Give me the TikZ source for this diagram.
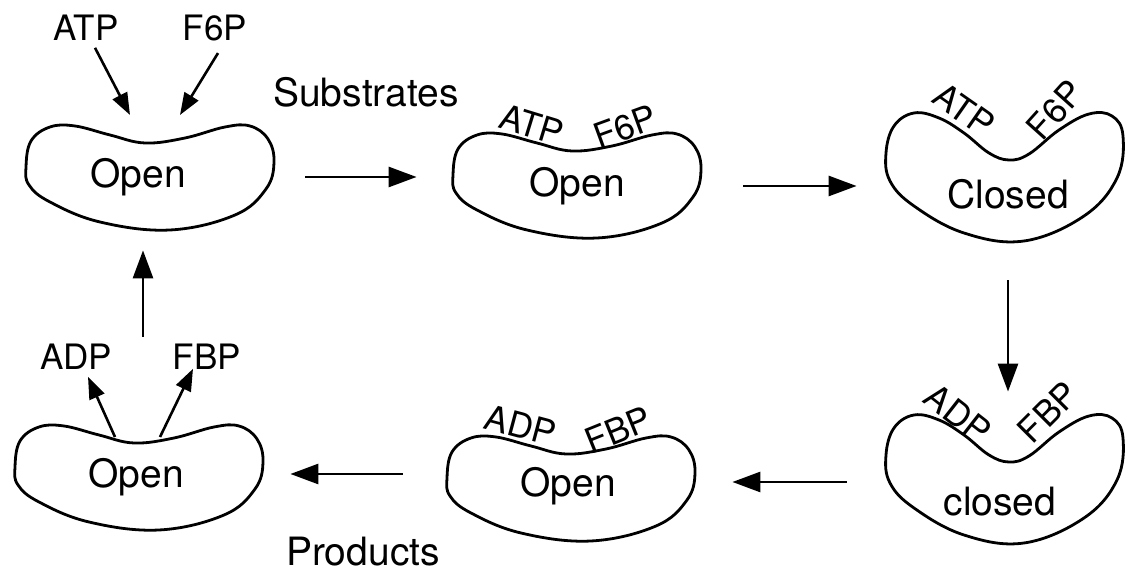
\documentclass[tikz,border=0pt]{standalone}
\usepackage{fontspec}
\setmainfont{TeX Gyre Heros}
\usetikzlibrary{arrows.meta}

\begin{document}
\begin{tikzpicture}[
  x=0.5pt, y=-0.5pt,
  enzyme/.style={minimum width=124pt, minimum height=52pt, inner sep=0pt,
                 font=\fontsize{19.5}{23}\selectfont},
  mol/.style={font=\fontsize{17.5}{21}\selectfont},
  bound/.style={font=\fontsize{17.5}{21}\selectfont, inner sep=0pt, rotate=#1},
  caption/.style={font=\fontsize{19.5}{23}\selectfont},
  outline/.style={line width=1.4pt, line join=round},
  arr/.style={-{Triangle[length=14pt, width=10pt]}, line width=1.4pt},
  sarr/.style={-{Triangle[length=11pt, width=8pt]}, line width=1.3pt},
  openblob/.pic={\draw[outline] plot[smooth cycle, tension=0.65] coordinates {
      (-124,-10) (-119,-36) (-100,-50) (-75,-51) (-40,-42) (-5,-34) (35,-39)
      (75,-50) (100,-51) (118,-38) (124,-15) (116,12) (85,38) (20,53)
      (-50,45) (-100,25) (-121,8)};},
  closedblob/.pic={\draw[outline] plot[smooth cycle, tension=0.65] coordinates {
      (-118,-25) (-110,-52) (-90,-65) (-65,-60) (-40,-45) (-15,-25) (5,-18)
      (25,-24) (55,-48) (85,-64) (108,-62) (119,-42) (113,0) (80,38)
      (20,63) (-40,55) (-90,28) (-114,3)};}]
  \useasboundingbox (0,0) rectangle (1126,576);
  % enzyme outlines
  \pic at (150,177) {openblob};
  \pic at (577,185) {openblob};
  \pic at (1004,178) {closedblob};
  \pic at (1004,480) {closedblob};
  \pic at (571,488) {openblob};
  \pic at (139,477) {openblob};
  % enzyme states
  \node[enzyme] (b1) at (138,177) {Open};
  \node[enzyme] (b2) at (577,186) {Open};
  \node[enzyme] (b3) at (1008,194) {Closed};
  \node[enzyme] (b4) at (1000,502) {closed};
  \node[enzyme] (b5) at (568,486) {Open};
  \node[enzyme] (b6) at (136,477) {Open};
  % bound substrates and products
  \node[bound=-17] (t2a) at (532,125) {ATP};
  \node[bound=20] (t2f) at (625,127) {F6P};
  \node[bound=-35] (t3a) at (964,110) {ATP};
  \node[bound=48] (t3f) at (1055,110) {F6P};
  \node[bound=-38] (t4a) at (958,414) {ADP};
  \node[bound=45] (t4f) at (1048,412) {FBP};
  \node[bound=-15] (t5a) at (521,425) {ADP};
  \node[bound=22] (t5f) at (618,430) {FBP};
  % free molecules
  \node[mol] (atp0) at (86,28) {ATP};
  \node[mol] (f6p0) at (215,28) {F6P};
  \node[mol] (adp0) at (76,357) {ADP};
  \node[mol] (fbp0) at (207,357) {FBP};
  \coordinate (in1) at (130,115);
  \coordinate (in2) at (180,115);
  \coordinate (out1) at (115,437);
  \coordinate (out2) at (160,437);
  \node[caption] (sub) at (366,92) {Substrates};
  \node[caption] (prod) at (363,552) {Products};
  % arrows
  \draw[sarr] ([xshift=4.5pt]atp0.south) -- (in1);
  \draw[sarr] ([xshift=1.5pt, yshift=-2.5pt]f6p0.south) -- (in2);
  \draw[sarr] (out1) -- ([xshift=6pt]adp0.south);
  \draw[sarr] (out2) -- ([xshift=-7pt, yshift=4pt]fbp0.south);
  \draw[arr, shorten <=21.5pt, shorten >=18pt] (b1.east) -- (b1.east -| b2.west);
  \draw[arr, shorten <=21pt, shorten >=13.5pt] (b2.east) -- (b2.east -| b3.west);
  \draw[arr, shorten <=17pt, shorten >=29pt] (b3.south) -- (b3.south |- b4.north);
  \draw[arr, shorten <=14.5pt, shorten >=20pt] ([yshift=10pt]b4.west) -- ([yshift=10pt]b4.west -| b5.east);
  \draw[arr, shorten <=20.5pt, shorten >=15pt] ([yshift=6pt]b5.west) -- ([yshift=6pt]b5.west -| b6.east);
  \draw[arr, shorten <=44pt, shorten >=10.5pt] ([xshift=3.5pt]b6.north) -- ([xshift=3.5pt]b6.north |- b1.south);
\end{tikzpicture}
\end{document}
